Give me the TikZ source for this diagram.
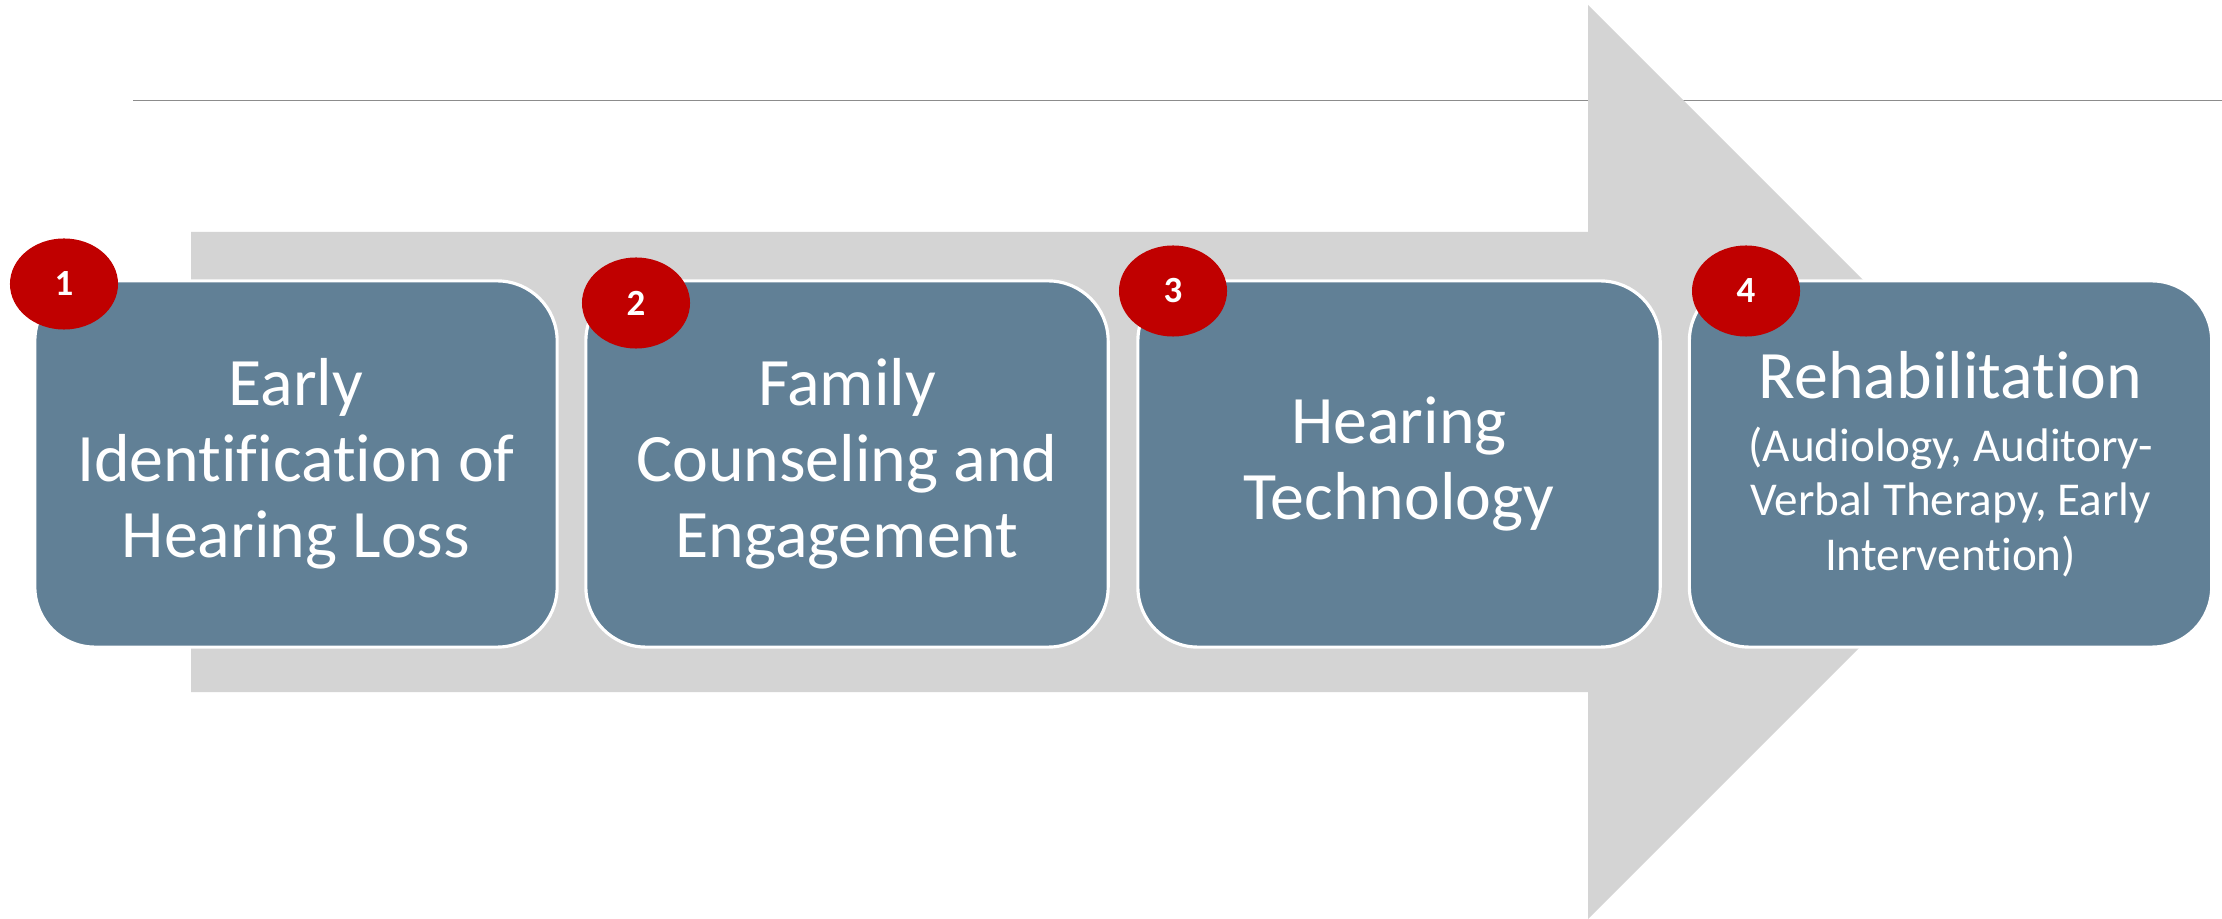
\documentclass[tikz,border=0pt]{standalone}
\usepackage{tikz}
\usetikzlibrary{shapes.geometric}
\usepackage{fontspec}
\setmainfont{Carlito}[Ligatures={NoCommon,NoRare}]
\definecolor{shaftgray}{RGB}{212,212,212}
\definecolor{stageblue}{RGB}{97,128,150}
\definecolor{dotred}{RGB}{192,0,0}
\newcommand{\rehabsub}{\fontsize{13.4}{15}\selectfont}

\begin{document}
\begin{tikzpicture}[x=0.01cm,y=-0.01cm,
	stagebox/.style={rectangle,rounded corners=0.6cm,fill=stageblue,draw=white,line width=0.9pt,
		minimum width=5.22cm,minimum height=3.66cm,align=center,text=white,
		font=\fontsize{19.3}{21.6}\selectfont,inner sep=0pt},
	numdot/.style={ellipse,fill=dotred,minimum width=1.08cm,minimum height=0.91cm,inner sep=0pt,
		text=white,font=\fontsize{10.5}{12}\selectfont\bfseries}]
	\fill[white] (0,0) rectangle (2222,919);
	\useasboundingbox (0,0) rectangle (2222,919);
	\draw[gray!90,line width=0.45pt] (133,100.7) -- (2222,100.7);
	\fill[shaftgray] (191,232) -- (1588,232) -- (1588,5) -- (2045,462) -- (1588,919) -- (1588,692) -- (191,692) -- cycle;
        \node[stagebox] (stage1) at (296,464) {Early\\Identification of\\Hearing Loss};
        \node[stagebox] (stage2) at (847,464) {Family\\Counseling and\\Engagement};
        \node[stagebox] (stage3) at (1399,464) {Hearing\\Technology};
        \node[stagebox] (stage4) at (1950.5,464) {Rehabilitation\\[-3.6pt]\rehabsub (Audiology, Auditory-\\[-6.1pt]\rehabsub Verbal Therapy, Early\\[-6.1pt]\rehabsub Intervention)};
	\node[numdot] (num1) at (64,284) {1};
	\node[numdot] (num2) at (636,303) {2};
	\node[numdot] (num3) at (1173,291) {3};
	\node[numdot] (num4) at (1746,291) {4};
\end{tikzpicture}
\end{document}
